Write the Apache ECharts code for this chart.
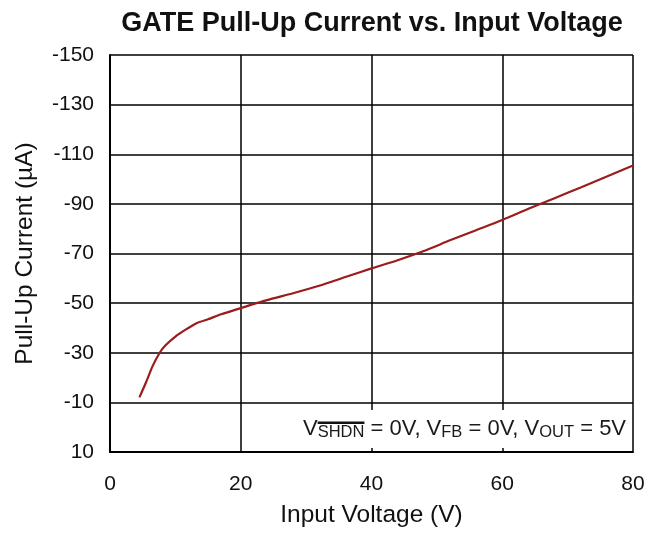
<!DOCTYPE html>
<html>
<head>
<meta charset="utf-8">
<script src="https://cdn.jsdelivr.net/npm/echarts@6/dist/echarts.min.js"></script>
<style>
html,body{margin:0;padding:0;background:#fff;}
#c{width:661px;height:533px;}
</style>
</head>
<body>
<div id="c"></div>
<script>
// Data
const voltage = [4.5, 5.5, 6.5, 7.6, 8.5, 10, 11.5, 13.3, 15, 17, 20, 24, 28, 32, 36, 40, 44, 48, 52, 56, 60, 64, 68, 72, 76, 80];
const current = [-12, -18, -24.5, -30, -33, -36.5, -39.2, -42, -43.5, -45.5, -48, -51.2, -54, -57, -60.5, -64, -67.3, -71, -75.3, -79.4, -83.5, -88, -92.3, -96.6, -101, -105.5];
const xTicks = [0, 20, 40, 60, 80];
const yTicks = [-150, -130, -110, -90, -70, -50, -30, -10, 10];

const FONT = '"Liberation Sans", Arial, sans-serif';
const chart = echarts.init(document.getElementById('c'), null, {renderer: 'canvas'});

function tw(txt, size) {
  const ctx = document.createElement('canvas').getContext('2d');
  ctx.font = size + 'px ' + FONT;
  return ctx.measureText(txt).width;
}
const MAIN = 22, SUB = 16.5, PADL = 4;
const overX = PADL + tw('V', MAIN);
const overW = tw('SHDN', SUB);

chart.setOption({
  animation: false,
  backgroundColor: '#fff',
  title: {
    text: 'GATE Pull-Up Current vs. Input Voltage',
    left: 372, top: 10, padding: 0,
    textAlign: 'center',
    textStyle: {fontFamily: FONT, fontSize: 27, fontWeight: 'bold', color: '#111'}
  },
  grid: {left: 110, right: 28, top: 55, bottom: 80, containLabel: false},
  xAxis: {
    type: 'value',
    min: xTicks[0], max: xTicks[xTicks.length - 1], interval: 20,
    name: 'Input Voltage (V)', nameLocation: 'middle', nameGap: 51,
    nameTextStyle: {fontFamily: FONT, fontSize: 24.5, color: '#111'},
    axisLine: {show: true, onZero: false, lineStyle: {color: '#000', width: 2}},
    axisTick: {show: false},
    axisLabel: {fontFamily: FONT, fontSize: 21, color: '#111', margin: 22},
    splitLine: {show: true, lineStyle: {color: '#000', width: 1.5}}
  },
  yAxis: {
    type: 'value', inverse: true,
    min: yTicks[0], max: yTicks[yTicks.length - 1], interval: 20,
    name: 'Pull-Up Current (µA)', nameLocation: 'middle', nameGap: 72,
    nameTextStyle: {fontFamily: FONT, fontSize: 24.5, color: '#111'},
    axisLine: {show: true, onZero: false, lineStyle: {color: '#000', width: 2}},
    axisTick: {show: false},
    axisLabel: {fontFamily: FONT, fontSize: 21, color: '#111', margin: 16},
    splitLine: {show: true, lineStyle: {color: '#000', width: 1.5}}
  },
  series: [{
    type: 'line',
    data: voltage.map((v, i) => [v, current[i]]),
    showSymbol: false,
    smooth: 0.2,
    lineStyle: {color: '#9b1c1c', width: 2.2},
    z: 3
  }],
  graphic: [{
    type: 'group',
    left: 299, top: 410, z: 20,
    children: [{
      type: 'text', x: 0, y: 0, z: 20,
      style: {
        text: '{m|V}{s|SHDN}{m| = 0V, V}{s|FB}{m| = 0V, V}{s|OUT}{m| = 5V}',
        backgroundColor: '#fff',
        padding: [8, 5, 8, PADL],
        fill: '#1a1a1a',
        font: MAIN + 'px ' + FONT,
        rich: {
          m: {fontSize: MAIN, fontFamily: FONT, fill: '#1a1a1a', lineHeight: 22},
          s: {fontSize: SUB, fontFamily: FONT, fill: '#1a1a1a', padding: [6, 0, 0, 0], lineHeight: 16}
        }
      }
    }, {
      type: 'rect', z: 21,
      shape: {x: overX, y: 11.5, width: overW, height: 2.5},
      style: {fill: '#111'}
    }]
  }]
});
</script>
</body>
</html>
